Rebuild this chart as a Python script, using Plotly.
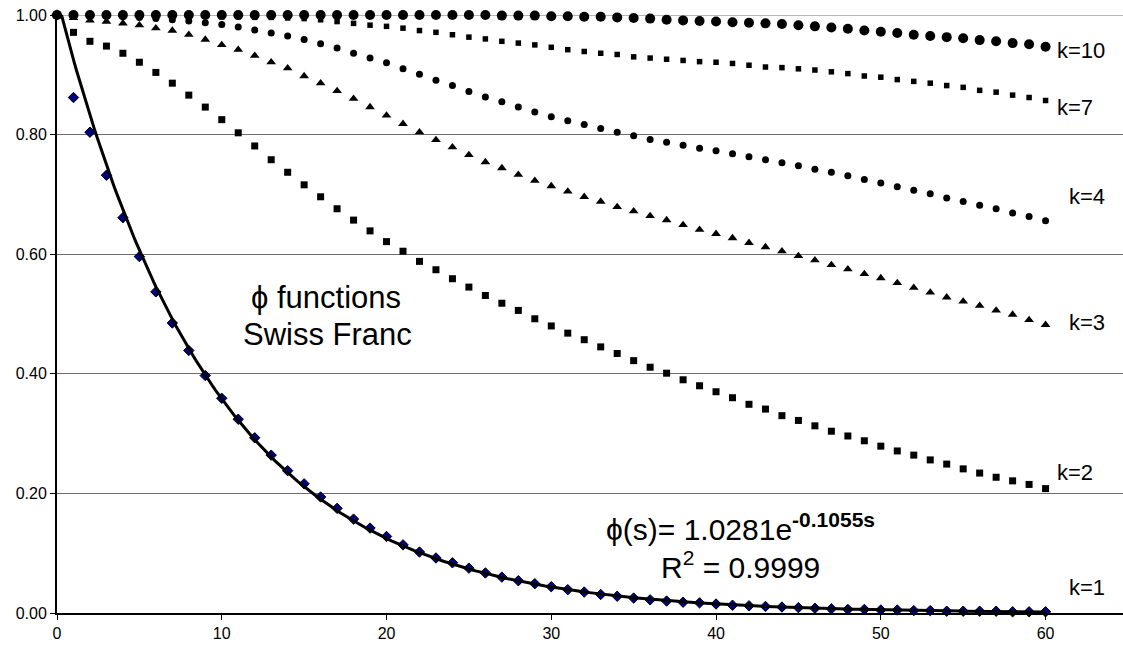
import numpy as np
import plotly.graph_objects as go

# lag s = 0 .. 60
s = list(range(61))

phi_k1 = [1.000, 0.862, 0.804, 0.732, 0.661, 0.596, 0.537, 0.485, 0.439, 0.397,
          0.359, 0.324, 0.293, 0.264, 0.238, 0.216, 0.194, 0.175, 0.157, 0.142,
          0.128, 0.114, 0.102, 0.092, 0.084, 0.075, 0.067, 0.060, 0.054, 0.049,
          0.044, 0.039, 0.035, 0.031, 0.028, 0.025, 0.022, 0.020, 0.018, 0.017,
          0.015, 0.013, 0.012, 0.011, 0.010, 0.009, 0.008, 0.007, 0.006, 0.006,
          0.005, 0.005, 0.004, 0.004, 0.003, 0.003, 0.003, 0.003, 0.002, 0.002,
          0.002]

phi_k2 = [1.000, 0.971, 0.956, 0.948, 0.936, 0.921, 0.904, 0.886, 0.866, 0.846,
          0.825, 0.803, 0.781, 0.758, 0.737, 0.716, 0.696, 0.676, 0.657, 0.639,
          0.621, 0.605, 0.588, 0.574, 0.559, 0.545, 0.531, 0.518, 0.506, 0.492,
          0.480, 0.468, 0.457, 0.445, 0.434, 0.422, 0.411, 0.401, 0.390, 0.380,
          0.370, 0.360, 0.349, 0.341, 0.330, 0.322, 0.313, 0.304, 0.296, 0.288,
          0.279, 0.271, 0.264, 0.256, 0.249, 0.241, 0.234, 0.227, 0.221, 0.215,
          0.208]

phi_k3 = [1.000, 0.995, 0.991, 0.989, 0.986, 0.983, 0.978, 0.974, 0.967, 0.959,
          0.950, 0.942, 0.932, 0.921, 0.911, 0.898, 0.886, 0.873, 0.860, 0.846,
          0.832, 0.818, 0.804, 0.791, 0.779, 0.766, 0.754, 0.744, 0.733, 0.723,
          0.714, 0.705, 0.696, 0.688, 0.679, 0.672, 0.664, 0.657, 0.649, 0.641,
          0.634, 0.627, 0.619, 0.612, 0.605, 0.597, 0.590, 0.582, 0.575, 0.567,
          0.560, 0.552, 0.544, 0.536, 0.528, 0.521, 0.514, 0.506, 0.499, 0.490,
          0.482]

phi_k4 = [1.000, 1.000, 0.999, 0.998, 0.997, 0.996, 0.994, 0.992, 0.990, 0.987,
          0.984, 0.980, 0.975, 0.970, 0.965, 0.959, 0.952, 0.945, 0.936, 0.928,
          0.920, 0.910, 0.901, 0.891, 0.882, 0.872, 0.863, 0.855, 0.846, 0.838,
          0.830, 0.823, 0.817, 0.810, 0.804, 0.798, 0.792, 0.787, 0.782, 0.777,
          0.773, 0.768, 0.763, 0.758, 0.753, 0.748, 0.742, 0.737, 0.731, 0.725,
          0.719, 0.713, 0.707, 0.701, 0.694, 0.688, 0.682, 0.676, 0.669, 0.663,
          0.656]

phi_k7 = [1.000, 1.000, 1.000, 1.000, 1.000, 0.999, 0.999, 0.999, 0.998, 0.998,
          0.997, 0.997, 0.996, 0.996, 0.995, 0.994, 0.992, 0.989, 0.986, 0.983,
          0.981, 0.978, 0.974, 0.971, 0.967, 0.963, 0.960, 0.956, 0.953, 0.950,
          0.946, 0.942, 0.939, 0.936, 0.934, 0.930, 0.928, 0.926, 0.924, 0.922,
          0.921, 0.919, 0.916, 0.913, 0.912, 0.910, 0.908, 0.905, 0.902, 0.898,
          0.896, 0.892, 0.889, 0.886, 0.882, 0.879, 0.874, 0.871, 0.866, 0.862,
          0.857]

phi_k10 = [1.000, 1.000, 1.000, 1.000, 1.000, 1.000, 1.000, 1.000, 1.000, 1.000,
           1.000, 1.000, 1.000, 1.000, 1.000, 1.000, 1.000, 1.000, 1.000, 1.000,
           1.000, 1.000, 1.000, 1.000, 1.000, 1.000, 1.000, 0.999, 0.999, 0.999,
           0.998, 0.998, 0.997, 0.997, 0.996, 0.995, 0.994, 0.992, 0.991, 0.990,
           0.989, 0.988, 0.987, 0.986, 0.985, 0.983, 0.981, 0.979, 0.977, 0.974,
           0.972, 0.970, 0.967, 0.965, 0.963, 0.961, 0.958, 0.956, 0.953, 0.951,
           0.947]

# exponential trend fitted to k=1
fit_a = 1.0281
fit_b = 0.1055
fit_r2 = "0.9999"

x_ticks = [0, 10, 20, 30, 40, 50, 60]
y_ticks = [0.0, 0.2, 0.4, 0.6, 0.8, 1.0]

FONT = "Liberation Sans, Arial, sans-serif"
GRID = "#6e6e6e"

fig = go.Figure()

# gridline along the top of the plot area (y = 1.00)
fig.add_shape(type="line", xref="paper", yref="y", x0=0, x1=1, y0=1.0, y1=1.0,
              line=dict(color=GRID, width=1), layer="below")

fig.add_trace(go.Scatter(
    x=s, y=phi_k1, mode="markers", cliponaxis=False,
    marker=dict(symbol="diamond", size=8, color="#000080",
                line=dict(color="black", width=1)),
))

s_fit = np.linspace(0, 60, 400)
fig.add_trace(go.Scatter(
    x=s_fit, y=fit_a * np.exp(-fit_b * s_fit), mode="lines",
    line=dict(color="black", width=3),
))

series = [
    (phi_k2, "square", 7),
    (phi_k3, "triangle-up", 8.5),
    (phi_k4, "circle", 7),
    (phi_k7, "square", 5.5),
    (phi_k10, "circle", 10),
]
for vals, sym, size in series:
    fig.add_trace(go.Scatter(
        x=s, y=vals, mode="markers", cliponaxis=False,
        marker=dict(symbol=sym, size=size, color="black", line=dict(width=0)),
    ))

# series labels at the right-hand end
k_labels = [("k=10", 60.6, 0.940), ("k=7", 60.6, 0.845), ("k=4", 61.3, 0.697),
            ("k=3", 61.3, 0.485), ("k=2", 60.6, 0.235), ("k=1", 61.3, 0.042)]
for txt, xv, yv in k_labels:
    fig.add_annotation(x=xv, y=yv, text=txt, showarrow=False,
                       xanchor="left", yanchor="middle",
                       font=dict(family=FONT, size=22, color="black"))

fig.add_annotation(x=16.3, y=0.528, text="\u03d5 functions", showarrow=False,
                   xanchor="center", yanchor="middle",
                   font=dict(family=FONT, size=31, color="black"))
fig.add_annotation(x=16.4, y=0.466, text="Swiss Franc", showarrow=False,
                   xanchor="center", yanchor="middle",
                   font=dict(family=FONT, size=31, color="black"))

fig.add_annotation(x=41.5, y=0.143,
                   text=f"\u03d5(s)= {fit_a}e<sup><b>-{fit_b}s</b></sup>",
                   showarrow=False, xanchor="center", yanchor="middle",
                   font=dict(family=FONT, size=30, color="black"))
fig.add_annotation(x=41.5, y=0.080, text=f"R<sup>2</sup> = {fit_r2}",
                   showarrow=False, xanchor="center", yanchor="middle",
                   font=dict(family=FONT, size=30, color="black"))

fig.update_layout(
    width=1123, height=648,
    margin=dict(l=57, r=0, t=15, b=35),
    paper_bgcolor="white", plot_bgcolor="white",
    showlegend=False,
    font=dict(family=FONT, size=16, color="black"),
    xaxis=dict(range=[0, 64.7], tickvals=x_ticks, ticks="outside", ticklen=5,
               tickwidth=1, tickcolor="black", showgrid=False, zeroline=False,
               showline=True, linecolor="black", linewidth=2,
               tickfont=dict(size=16)),
    yaxis=dict(range=[0, 1.0], tickvals=y_ticks, tickformat=".2f",
               ticks="outside", ticklen=5, tickwidth=1, tickcolor="black",
               showgrid=True, gridcolor=GRID, gridwidth=1,
               zeroline=False, showline=True, linecolor="black", linewidth=2,
               tickfont=dict(size=16)),
)

fig.write_html("out.html")
